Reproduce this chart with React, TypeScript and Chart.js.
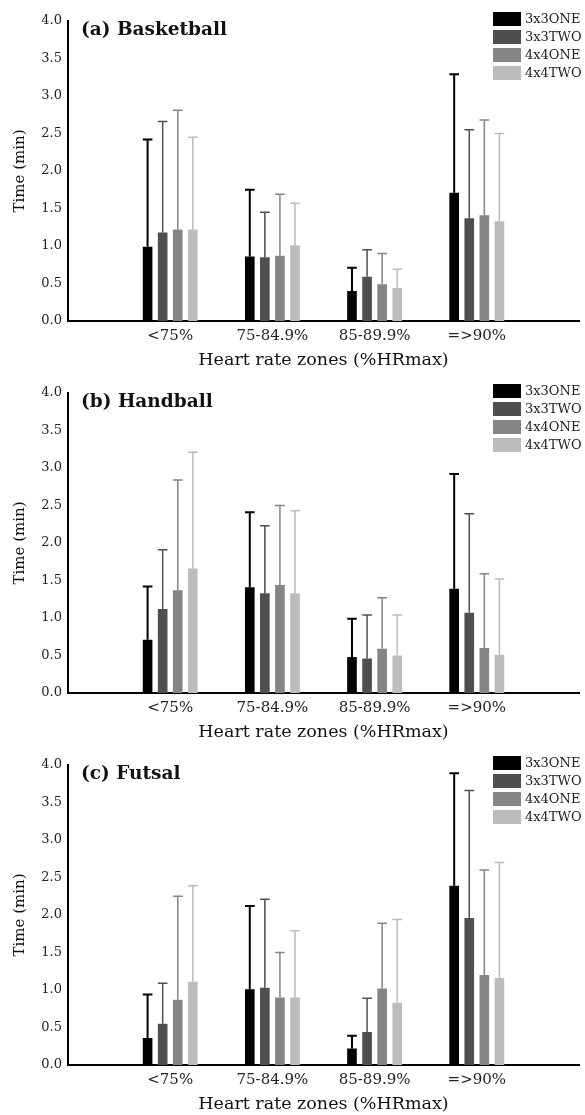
import { useEffect, useRef } from 'react'
import { Chart, registerables } from 'chart.js'

Chart.register(...registerables)

const zones = ['<75%', '75-84.9%', '85-89.9%', '=>90%']
const series = ['3x3ONE', '3x3TWO', '4x4ONE', '4x4TWO']
const barColors = ['#000000', '#4f4f4f', '#858585', '#bcbcbc']
const yTicks = [0, 0.5, 1, 1.5, 2, 2.5, 3, 3.5, 4]

// rows = series (3x3ONE, 3x3TWO, 4x4ONE, 4x4TWO), cols = zones
const basketballMean = [
  [0.99, 0.86, 0.40, 1.71],
  [1.18, 0.85, 0.59, 1.37],
  [1.22, 0.87, 0.49, 1.41],
  [1.22, 1.01, 0.44, 1.33],
]
const basketballSd = [
  [1.43, 0.89, 0.31, 1.58],
  [1.48, 0.60, 0.36, 1.18],
  [1.59, 0.82, 0.41, 1.27],
  [1.23, 0.56, 0.25, 1.17],
]
const handballMean = [
  [0.71, 1.41, 0.48, 1.39],
  [1.12, 1.33, 0.46, 1.07],
  [1.37, 1.44, 0.59, 0.60],
  [1.66, 1.33, 0.50, 0.51],
]
const handballSd = [
  [0.71, 1.00, 0.51, 1.53],
  [0.79, 0.90, 0.58, 1.32],
  [1.47, 1.06, 0.68, 0.99],
  [1.55, 1.10, 0.54, 1.01],
]
const futsalMean = [
  [0.36, 1.01, 0.22, 2.39],
  [0.55, 1.03, 0.44, 1.96],
  [0.87, 0.90, 1.02, 1.20],
  [1.11, 0.90, 0.83, 1.16],
]
const futsalSd = [
  [0.58, 1.11, 0.17, 1.50],
  [0.54, 1.18, 0.45, 1.70],
  [1.38, 0.60, 0.87, 1.40],
  [1.28, 0.89, 1.11, 1.54],
]

const FONT = "'DejaVu Serif', 'Liberation Serif', serif"
const W = 585
const H = 372

const errorBars = {
  id: 'errorBars',
  afterDatasetsDraw(chart: any) {
    const { ctx } = chart
    const y = chart.scales.y
    chart.data.datasets.forEach((ds: any, i: number) => {
      const meta = chart.getDatasetMeta(i)
      meta.data.forEach((bar: any, j: number) => {
        const v = ds.data[j]
        const e = ds.errors[j]
        if (v == null || e == null) return
        const top = y.getPixelForValue(v + e)
        const half = bar.width / 2
        ctx.save()
        ctx.strokeStyle = ds.backgroundColor
        ctx.lineWidth = i === 0 ? 2 : 1.5
        ctx.beginPath()
        ctx.moveTo(bar.x, y.getPixelForValue(v))
        ctx.lineTo(bar.x, top)
        ctx.moveTo(bar.x - half, top)
        ctx.lineTo(bar.x + half, top)
        ctx.stroke()
        ctx.restore()
      })
    })
  },
}

const panelText = {
  id: 'panelText',
  afterDraw(chart: any, _args: any, opts: any) {
    const { ctx, chartArea } = chart
    ctx.save()
    ctx.fillStyle = '#111'
    ctx.textBaseline = 'middle'
    ctx.font = `bold 18.5px ${FONT}`
    ctx.fillText(opts.title, chartArea.left + 13, 30)
    // legend
    ctx.font = `13px ${FONT}`
    chart.data.datasets.forEach((ds: any, i: number) => {
      const top = 12 + i * 18
      ctx.fillStyle = ds.backgroundColor
      ctx.fillRect(493, top, 28, 14)
      ctx.fillStyle = '#222'
      ctx.fillText(ds.label, 525, top + 7.5)
    })
    ctx.restore()
  },
}

function Panel({ title, means, sds }: { title: string; means: number[][]; sds: number[][] }) {
  const ref = useRef<HTMLCanvasElement>(null)

  useEffect(() => {
    if (!ref.current) return
    const chart = new Chart(ref.current, {
      type: 'bar',
      data: {
        labels: ['', ...zones, ''],
        datasets: series.map((name, i) => ({
          label: name,
          data: [null, ...means[i], null],
          errors: [null, ...sds[i], null],
          backgroundColor: barColors[i],
          borderWidth: 0,
          categoryPercentage: 0.59,
          barPercentage: 0.64,
        })) as any,
      },
      options: {
        responsive: false,
        animation: false,
        layout: { padding: { top: 21, right: 2, left: 0, bottom: 0 } },
        plugins: {
          legend: { display: false },
          tooltip: { enabled: false },
          panelText: { title },
        } as any,
        scales: {
          x: {
            offset: false,
            grid: { display: false, drawTicks: false },
            border: { display: true, color: '#000', width: 2 },
            ticks: {
              color: '#222',
              font: { family: FONT, size: 15 },
              padding: 6,
              autoSkip: false,
              maxRotation: 0,
            },
            title: {
              display: true,
              text: 'Heart rate zones (%HRmax)',
              color: '#111',
              font: { family: FONT, size: 17.5 },
              padding: { top: 0, bottom: 1 },
            },
            afterFit: (s: any) => { s.height = 51 },
          },
          y: {
            min: 0,
            max: 4,
            grid: { display: false, drawTicks: false },
            border: { display: true, color: '#000', width: 2 },
            afterBuildTicks: (s: any) => { s.ticks = yTicks.map(v => ({ value: v })) },
            ticks: {
              color: '#222',
              font: { family: FONT, size: 13 },
              padding: 6,
              callback: (v: any) => Number(v).toFixed(1),
            },
            title: {
              display: true,
              text: 'Time (min)',
              color: '#111',
              font: { family: FONT, size: 15 },
              padding: { top: 11, bottom: 0 },
            },
            afterFit: (s: any) => { s.width = 68 },
          },
        },
      },
      plugins: [errorBars, panelText],
    })
    return () => chart.destroy()
  }, [title, means, sds])

  return <canvas ref={ref} width={W} height={H} style={{ display: 'block', width: W, height: H }} />
}

export default function App() {
  return (
    <div style={{ position: 'absolute', left: 0, top: 0, width: W, background: '#fff' }}>
      <Panel title="(a) Basketball" means={basketballMean} sds={basketballSd} />
      <Panel title="(b) Handball" means={handballMean} sds={handballSd} />
      <Panel title="(c) Futsal" means={futsalMean} sds={futsalSd} />
    </div>
  )
}
